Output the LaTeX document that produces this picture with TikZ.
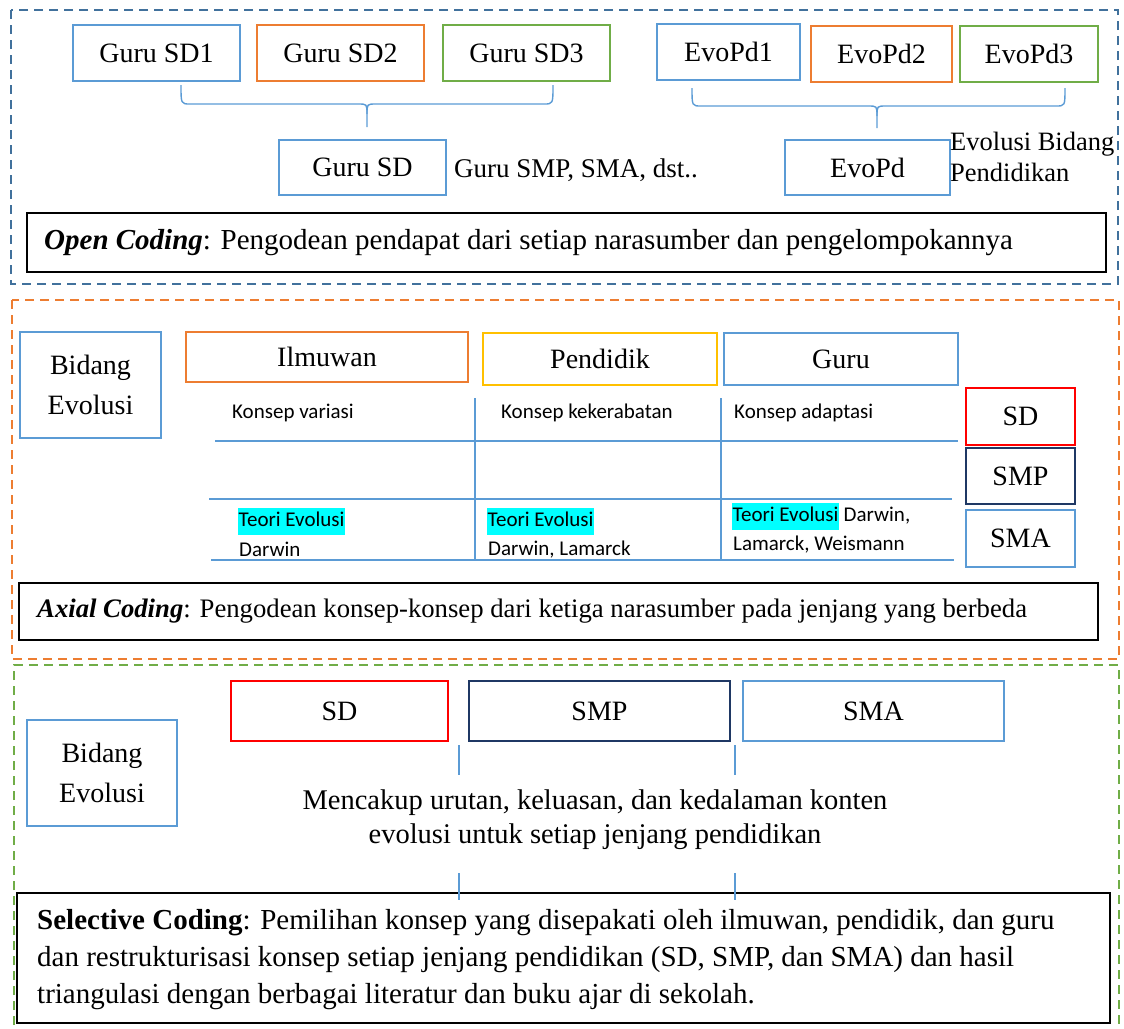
\documentclass[tikz,border=0pt]{standalone}
\usepackage{fontspec}
\setmainfont{Liberation Serif}
\newfontfamily\calfont{Carlito}
\definecolor{cblue}{HTML}{5B9BD5}
\definecolor{corange}{HTML}{ED7D31}
\definecolor{cgreen}{HTML}{70AD47}
\definecolor{cyellow}{HTML}{FFC000}
\definecolor{cred}{HTML}{FF0000}
\definecolor{cnavy}{HTML}{1F3864}
\definecolor{cdash}{HTML}{41719C}
\definecolor{hl}{HTML}{00FFFF}
\begin{document}
\begin{tikzpicture}[x=1pt,y=-1pt,
  box/.style={draw=#1, line width=2.2pt, inner sep=0pt, align=center, font=\fontsize{28}{40}\selectfont},
  codebox/.style={draw=black, line width=1.6pt},
  codetext/.style={anchor=west, inner sep=0pt, align=left, font=\fontsize{29}{37}\selectfont},
  sec/.style={draw=#1, line width=2pt, dash pattern=on 9pt off 6pt},
  tline/.style={draw=cblue, line width=1.2pt},
  bracepath/.style={draw=cblue, line width=1.4pt},
  small/.style={anchor=west, inner sep=0pt, font=\calfont\fontsize{21}{26}\selectfont},
  plain/.style={anchor=west, inner sep=0pt, align=left}
]
\useasboundingbox (0,0) rectangle (1124,1028);
\fboxsep=0.5pt

% ---------- section 1 ----------
\draw[sec=cdash] (11,10) rectangle (1118,284);
\node[box=cblue,   minimum width=167pt, minimum height=56pt] (sd1) at (156.5,53) {Guru SD1};
\node[box=corange, minimum width=167pt, minimum height=56pt] (sd2) at (340.5,53) {Guru SD2};
\node[box=cgreen,  minimum width=167pt, minimum height=56pt] (sd3) at (526.5,53) {Guru SD3};
\node[box=cblue,   minimum width=143pt, minimum height=56pt] (ev1) at (728.5,52) {EvoPd1};
\node[box=corange, minimum width=141pt, minimum height=56pt] (ev2) at (881.5,54) {EvoPd2};
\node[box=cgreen,  minimum width=138pt, minimum height=56pt] (ev3) at (1029,54) {EvoPd3};

\draw[bracepath] (181,85) .. controls (181,104) and (181,104) .. (190,104) -- (358,104)
  .. controls (367,104) and (367,104) .. (367,114) -- (367,127);
\draw[bracepath] (553,85) .. controls (553,104) and (553,104) .. (544,104) -- (376,104)
  .. controls (367,104) and (367,104) .. (367,114);
\draw[bracepath] (692,88) .. controls (692,106) and (692,106) .. (701,106) -- (868,106)
  .. controls (877,106) and (877,106) .. (877,116) -- (877,128);
\draw[bracepath] (1065,88) .. controls (1065,106) and (1065,106) .. (1056,106) -- (886,106)
  .. controls (877,106) and (877,106) .. (877,116);

\node[box=cblue, minimum width=167pt, minimum height=55pt] (gsd) at (362.5,167.5) {Guru SD};
\node[plain, font=\fontsize{27}{30}\selectfont] (gsmp) at (454,170) {Guru SMP, SMA, dst..};
\node[box=cblue, minimum width=165pt, minimum height=55pt] (evpd) at (867.5,167.5) {EvoPd};
\node[plain, font=\fontsize{26.5}{31}\selectfont] (evlab) at (950,157) {Evolusi Bidang\\Pendidikan};

\draw[codebox] (27,213) rectangle (1106,272);
\node[codetext] (open) at (44,242.5) {\textbf{\textit{Open Coding}}: Pengodean pendapat dari setiap narasumber dan pengelompokannya};

% ---------- section 2 ----------
\draw[sec=corange] (12,300) rectangle (1119,659);
\node[box=cblue, minimum width=141pt, minimum height=106pt] (bid1) at (90.5,385) {Bidang\\Evolusi};
\node[box=corange, minimum width=282pt, minimum height=50pt] (ilm) at (327,357) {Ilmuwan};
\node[box=cyellow, minimum width=234pt, minimum height=52pt] (pend) at (600,359) {Pendidik};
\node[box=cblue, minimum width=234pt, minimum height=52pt] (guru) at (841,359) {Guru};
\node[box=cred, minimum width=109pt, minimum height=57pt] (lsd) at (1020.5,416.5) {SD};
\node[box=cnavy, minimum width=109pt, minimum height=56pt] (lsmp) at (1020.5,476) {SMP};
\node[box=cblue, minimum width=109pt, minimum height=57pt] (lsma) at (1020.5,538.5) {SMA};

\draw[tline] (215,441) -- (958,441);
\draw[tline] (209,499) -- (952,499);
\draw[tline] (211,560) -- (954,560);
\draw[tline] (475,398) -- (475,560);
\draw[tline] (721,398) -- (721,560);

\node[small] (k1) at (232,413) {Konsep variasi};
\node[small] (k2) at (501,413) {Konsep kekerabatan};
\node[small] (k3) at (734,413) {Konsep adaptasi};
\node[small] (t1) at (238,521) {\colorbox{hl}{\strut Teori Evolusi}};
\node[small] (d1) at (239,549) {Darwin};
\node[small] (t2) at (487,521) {\colorbox{hl}{\strut Teori Evolusi}};
\node[small] (d2) at (488,550) {Darwin, Lamarck};
\node[small] (t3) at (732,516) {\colorbox{hl}{\strut Teori Evolusi} Darwin,};
\node[small] (d3) at (733,545) {Lamarck, Weismann};

\draw[codebox] (19,583) rectangle (1098,640);
\node[codetext, font=\fontsize{26.7}{34}\selectfont] (axial) at (37,611.5) {\textbf{\textit{Axial Coding}}: Pengodean konsep-konsep dari ketiga narasumber pada jenjang yang berbeda};

% ---------- section 3 ----------
\draw[sec=cgreen] (14,1040) -- (14,665) -- (1119,665) -- (1119,1040);
\node[box=cred, minimum width=217pt, minimum height=60pt] (bsd) at (339.5,711) {SD};
\node[box=cnavy, minimum width=261pt, minimum height=60pt] (bsmp) at (599.5,711) {SMP};
\node[box=cblue, minimum width=261pt, minimum height=60pt] (bsma) at (873.5,711) {SMA};
\node[box=cblue, minimum width=150pt, minimum height=106pt] (bid2) at (102,773) {Bidang\\Evolusi};

\node[align=center, inner sep=0pt, font=\fontsize{28.5}{34}\selectfont] (menc) at (595,820) {Mencakup urutan, keluasan, dan kedalaman konten\\evolusi untuk setiap jenjang pendidikan};

\coordinate (a1) at (459,745); \coordinate (a2) at (459,775);
\coordinate (b1) at (735,745); \coordinate (b2) at (735,775);
\coordinate (a3) at (459,873); \coordinate (a4) at (459,900);
\coordinate (b3) at (735,873); \coordinate (b4) at (735,900);
\draw[tline] (a1) -- (a2);
\draw[tline] (b1) -- (b2);

\draw[codebox] (17,893) rectangle (1110,1023);
\draw[tline] (a3) -- (a4);
\draw[tline] (b3) -- (b4);
\node[codetext] (sel) at (37,960) {\textbf{Selective Coding}: Pemilihan konsep yang disepakati oleh ilmuwan, pendidik, dan guru\\dan restrukturisasi konsep setiap jenjang pendidikan (SD, SMP, dan SMA) dan hasil\\triangulasi dengan berbagai literatur dan buku ajar di sekolah.};
\end{tikzpicture}
\end{document}
